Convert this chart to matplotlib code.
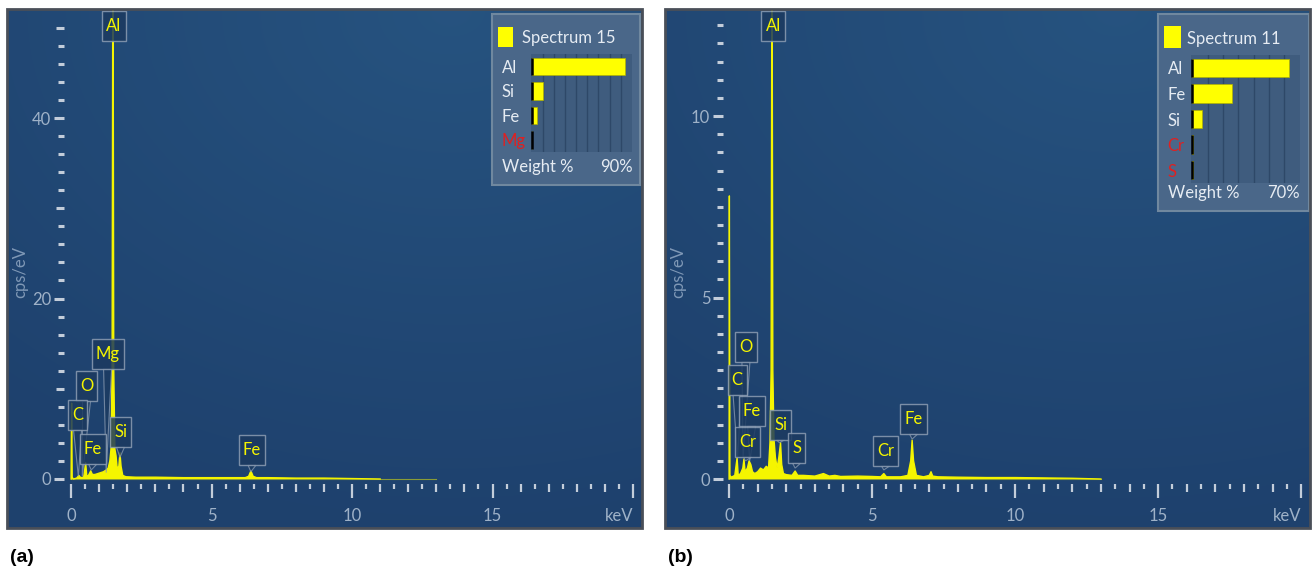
import numpy as np
import matplotlib.pyplot as plt
from matplotlib.patches import Rectangle, Polygon
from matplotlib.ticker import FixedLocator

plt.rcParams["font.family"] = ["Lato", "DejaVu Sans"]

# ---- spectrum (a): Spectrum 15 ----
energy_a = [0.0, 0.02, 0.04, 0.08, 0.2, 0.28, 0.34, 0.45, 0.52, 0.56, 0.62, 0.7,
            0.76, 0.85, 0.95, 1.05, 1.15, 1.25, 1.32, 1.38, 1.42, 1.46, 1.49,
            1.52, 1.56, 1.6, 1.64, 1.7, 1.74, 1.78, 1.84, 1.95, 2.3, 3.0, 4.0,
            5.0, 6.2, 6.32, 6.4, 6.48, 6.6, 7.0, 8.0, 9.0, 10.0, 11.0]
counts_a = [0.0, 8.4, 0.2, 0.0, 0.1, 0.4, 0.15, 0.2, 1.8, 0.3, 0.4, 0.9,
            0.5, 0.5, 0.6, 0.7, 0.8, 1.0, 1.2, 2.0, 3.3, 12.0, 65.0,
            12.0, 3.3, 2.6, 1.2, 1.4, 2.9, 1.4, 0.4, 0.25, 0.2, 0.2, 0.15,
            0.15, 0.15, 0.3, 0.9, 0.3, 0.15, 0.15, 0.1, 0.1, 0.05, 0.0]

# ---- spectrum (b): Spectrum 11 ----
energy_b = [0.0, 0.01, 0.03, 0.08, 0.2, 0.28, 0.32, 0.4, 0.48, 0.52, 0.56, 0.64,
            0.7, 0.76, 0.82, 0.9, 1.0, 1.1, 1.2, 1.3, 1.38, 1.43, 1.47, 1.5,
            1.53, 1.57, 1.62, 1.68, 1.74, 1.8, 1.84, 1.9, 2.0, 2.2, 2.31, 2.4,
            2.6, 3.0, 3.3, 3.5, 3.7, 3.9, 4.5, 5.0, 5.3, 5.41, 5.5, 6.0, 6.25,
            6.35, 6.4, 6.45, 6.55, 6.8, 7.0, 7.06, 7.12, 7.3, 8.0, 9.0, 10.0,
            11.0, 12.0, 13.0]
counts_b = [0.0, 7.8, 0.1, 0.05, 0.1, 0.58, 0.1, 0.15, 0.3, 0.55, 0.2, 0.3,
            0.5, 0.4, 0.2, 0.15, 0.2, 0.3, 0.25, 0.35, 0.3, 1.0, 3.0, 16.0,
            3.0, 1.1, 0.6, 0.3, 0.6, 1.0, 0.4, 0.15, 0.12, 0.1, 0.22, 0.1,
            0.1, 0.08, 0.15, 0.08, 0.1, 0.07, 0.08, 0.07, 0.06, 0.15, 0.06, 0.06, 0.1,
            0.5, 1.07, 0.5, 0.1, 0.06, 0.1, 0.2, 0.08, 0.06, 0.05, 0.04, 0.04,
            0.03, 0.02, 0.0]

# ---- peak callouts: name, label centre (keV, cps), pointer tip (keV, cps) ----
lab_a_names = ["Al", "Mg", "O", "C", "Fe", "Si", "Fe"]
lab_a_x = [1.53, 1.30, 0.55, 0.23, 0.77, 1.76, 6.44]
lab_a_y = [50.2, 13.85, 10.3, 7.1, 3.3, 5.2, 3.2]
lab_a_tipx = [None, 1.25, 0.40, 0.26, 0.72, 1.74, 6.40]
lab_a_tipy = [None, 0.7, 0.3, 0.3, 1.0, 2.4, 0.8]

lab_b_names = ["Al", "O", "C", "Fe", "Cr", "Si", "S", "Cr", "Fe"]
lab_b_x = [1.54, 0.59, 0.28, 0.79, 0.65, 1.80, 2.36, 5.47, 6.45]
lab_b_y = [12.48, 3.64, 2.73, 1.87, 1.02, 1.49, 0.85, 0.77, 1.65]
lab_b_tipx = [None, 0.49, 0.30, 0.72, 0.57, 1.76, 2.31, 5.41, 6.40]
lab_b_tipy = [None, 0.6, 0.6, 0.5, 0.5, 1.0, 0.3, 0.25, 1.1]

# ---- weight % legends ----
wt_a_elems = ["Al", "Si", "Fe", "Mg"]
wt_a_vals = [84, 10, 5, 0.4]
wt_a_colors = ["#e6ecf3", "#e6ecf3", "#e6ecf3", "#e02020"]

wt_b_elems = ["Al", "Fe", "Si", "Cr", "S"]
wt_b_vals = [63, 26, 6.5, 0.6, 0.2]
wt_b_colors = ["#e6ecf3", "#e6ecf3", "#e6ecf3", "#e02020", "#e02020"]

YELLOW = "#f5f500"
TICK_C = "#c3cdda"
LABEL_C = "#9fb2c8"
BOX_FC = "#1c3a60"
BOX_EC = "#8c9db3"
FS = 12

W, H = 1313, 574


def add_background(ax):
    gx, gy = np.meshgrid(np.linspace(0, 1, 200), np.linspace(0, 1, 120))
    d = np.sqrt(((gx - 0.7) * 1.0) ** 2 + ((gy - 1.0) * 1.1) ** 2)
    t = np.clip(1 - d / 1.1, 0, 1)[..., None]
    dark = np.array([0.118, 0.255, 0.430])
    light = np.array([0.150, 0.325, 0.500])
    img = dark + (light - dark) * t
    ax.imshow(img, extent=(0, 1, 0, 1), transform=ax.transAxes, origin="lower",
              aspect="auto", zorder=0, interpolation="bilinear")
    ax.add_patch(Rectangle((0, 0), 1, 1, transform=ax.transAxes, fill=False,
                           edgecolor="#4a4f58", lw=2, clip_on=False, zorder=10))


def setup_axes(ax, xlim, ylim, yleft, xbottom, ymajor, ylabels, yminor, ymedium):
    ax.set_xlim(*xlim)
    ax.set_ylim(*ylim)
    for s in ax.spines.values():
        s.set_visible(False)
    ax.spines["left"].set_position(("data", yleft))
    ax.spines["bottom"].set_position(("data", xbottom))

    # y ticks: dashes left of the plot
    ax.yaxis.set_major_locator(FixedLocator(ymajor))
    ax.set_yticklabels(ylabels)
    ax.yaxis.set_minor_locator(FixedLocator(yminor))
    ax.tick_params(axis="y", which="major", length=7.2, width=2.2, color=TICK_C,
                   labelcolor=LABEL_C, labelsize=FS, pad=2)
    ax.tick_params(axis="y", which="minor", length=4.3, width=2.2, color=TICK_C)
    for val, tk in zip(ymajor, ax.yaxis.get_major_ticks()):
        if val in ymedium:
            tk.tick1line.set_markersize(5.6)

    # x ticks: long every 5 keV, medium every 1 keV, short every 0.5 keV
    xmajor = list(range(0, 21))
    ax.xaxis.set_major_locator(FixedLocator(xmajor))
    ax.set_xticklabels([("keV" if v == 20 else str(v)) if v % 5 == 0 else ""
                        for v in xmajor])
    ax.xaxis.set_minor_locator(FixedLocator([v + 0.5 for v in range(0, 20)]))
    ax.tick_params(axis="x", which="major", length=10, width=1.6, color=TICK_C,
                   labelcolor=LABEL_C, labelsize=FS, pad=7)
    ax.tick_params(axis="x", which="minor", length=3.4, width=1.6, color=TICK_C)
    for val, tk in zip(xmajor, ax.xaxis.get_major_ticks()):
        if val % 5 != 0:
            tk.tick1line.set_markersize(5.8)
    ax.get_xticklabels()[-1].set_horizontalalignment("right")


def draw_spectrum(ax, e, c):
    ax.fill_between(e, c, 0, color=YELLOW, lw=0, zorder=2)
    ax.plot(e, c, color=YELLOW, lw=1.0, zorder=2)
    ax.plot([0, 13], [0, 0], color=YELLOW, lw=0.8, alpha=0.5, zorder=2)


def draw_callouts(ax, names, lx, ly, tx, ty):
    renderer = ax.figure.canvas.get_renderer()
    inv = ax.transData.inverted()
    for n, x, y, px, py in zip(names, lx, ly, tx, ty):
        t = ax.text(x, y, n, ha="center", va="center", color=YELLOW,
                    fontsize=FS, zorder=5)
        bb = t.get_window_extent(renderer)
        cx, cy = ax.transData.transform((x, y))
        w, h = bb.width + 8, 30
        x0, y0 = inv.transform((cx - w / 2, cy - h / 2))
        x1, y1 = inv.transform((cx + w / 2, cy + h / 2))
        ax.add_patch(Rectangle((x0, y0), x1 - x0, y1 - y0, fc=BOX_FC, ec=BOX_EC,
                               lw=1.0, alpha=0.85, zorder=4))
        if px is not None:
            a = inv.transform((cx - 4, cy - h / 2))
            b = inv.transform((cx + 4, cy - h / 2))
            ax.add_patch(Polygon([a, b, (px, py)], closed=True, fc=BOX_FC,
                                 ec=BOX_EC, lw=0.8, alpha=0.75, zorder=3.5))


def draw_legend(ax, box, swatch, title_xy, bars_rect, label_pad, elems, vals,
                colors, full, weight_y, pct_x, pct_text):
    ax.add_patch(Rectangle((box[0], box[1]), box[2], box[3], transform=ax.transAxes,
                           fc="#4a6789", ec="#70889f", lw=1.5, zorder=4.5, clip_on=False))
    ax.add_patch(Rectangle((swatch[0], swatch[1]), swatch[2], swatch[3],
                           transform=ax.transAxes, fc="#ffff00", ec="none", zorder=6))
    ax.text(title_xy[0], title_xy[1], pct_text[0], transform=ax.transAxes,
            ha="left", va="center", color="#e6ecf3", fontsize=FS, zorder=6)
    ax.text(box[0] + 0.016, weight_y, "Weight %",
            transform=ax.transAxes, ha="left", va="center", color="#e6ecf3",
            fontsize=FS, zorder=6)
    ax.text(pct_x, weight_y, pct_text[1], transform=ax.transAxes, ha="right",
            va="center", color="#e6ecf3", fontsize=FS, zorder=6)

    bx = ax.inset_axes(bars_rect)
    bx.set_zorder(6)
    bx.set_facecolor("#3f5c7e")
    pos = np.arange(len(elems))
    bx.barh(pos, vals, height=0.72, color="#ffff00", edgecolor="#b0b000", lw=0.5, zorder=3)
    bx.vlines(np.zeros(len(pos)), pos - 0.36, pos + 0.36, color="black", lw=1.8, zorder=4)
    bx.set_xlim(-0.6, full)
    bx.set_ylim(len(elems) - 0.5, -0.5)
    bx.set_xticks(np.arange(10, full, 10))
    bx.tick_params(axis="x", length=0, labelbottom=False)
    bx.grid(axis="x", color="#2e4868", lw=1.0)
    bx.set_axisbelow(True)
    bx.set_yticks(pos)
    bx.set_yticklabels(elems, fontsize=FS)
    bx.tick_params(axis="y", length=0, pad=label_pad)
    for lab, col in zip(bx.get_yticklabels(), colors):
        lab.set_color(col)
        lab.set_horizontalalignment("left")
    for s in bx.spines.values():
        s.set_visible(False)


fig = plt.figure(figsize=(W / 100, H / 100), dpi=100)
fig.patch.set_facecolor("white")

# ---------- panel (a) ----------
ax_a = fig.add_axes([7 / W, 46 / H, 635 / W, 519 / H])
add_background(ax_a)
setup_axes(ax_a, (-2.28, 20.32), (-5.43, 52.08), -0.25, -0.55,
           [0, 10, 20, 30, 40, 50], ["0", "", "20", "", "40", ""],
           [v for v in range(2, 51, 2) if v % 10 != 0], [10, 30, 50])
draw_spectrum(ax_a, energy_a, counts_a)
draw_callouts(ax_a, lab_a_names, lab_a_x, lab_a_y, lab_a_tipx, lab_a_tipy)
ax_a.text(0.0205, 0.493, "cps/eV", transform=ax_a.transAxes, rotation=90,
          ha="center", va="center", color="#7f98b6", fontsize=FS)
draw_legend(ax_a, (0.764, 0.661, 0.233, 0.329), (0.773, 0.927, 0.024, 0.038),
            (0.811, 0.944), [0.825, 0.724, 0.159, 0.189], 21,
            wt_a_elems, wt_a_vals, wt_a_colors, 90, 0.696, 0.986,
            ("Spectrum 15", "90%"))

# ---------- panel (b) ----------
ax_b = fig.add_axes([665 / W, 46 / H, 645 / W, 519 / H])
add_background(ax_b)
setup_axes(ax_b, (-2.24, 20.31), (-1.35, 12.95), -0.21, -0.14,
           [0, 5, 10], ["0", "5", "10"],
           [v / 2 for v in range(1, 26) if v % 10 != 0], [])
draw_spectrum(ax_b, energy_b, counts_b)
draw_callouts(ax_b, lab_b_names, lab_b_x, lab_b_y, lab_b_tipx, lab_b_tipy)
ax_b.text(0.020, 0.493, "cps/eV", transform=ax_b.transAxes, rotation=90,
          ha="center", va="center", color="#7f98b6", fontsize=FS)
draw_legend(ax_b, (0.764, 0.610, 0.234, 0.380), (0.774, 0.925, 0.026, 0.042),
            (0.809, 0.942), [0.816, 0.665, 0.168, 0.246], 17,
            wt_b_elems, wt_b_vals, wt_b_colors, 70, 0.645, 0.984,
            ("Spectrum 11", "70%"))

fig.text(10 / W, 1 - 557 / H, "(a)", fontsize=14, fontweight="bold",
         family=["Liberation Sans", "DejaVu Sans"], va="center", ha="left")
fig.text(668 / W, 1 - 557 / H, "(b)", fontsize=14, fontweight="bold",
         family=["Liberation Sans", "DejaVu Sans"], va="center", ha="left")

fig.savefig("out.png", dpi=100)
